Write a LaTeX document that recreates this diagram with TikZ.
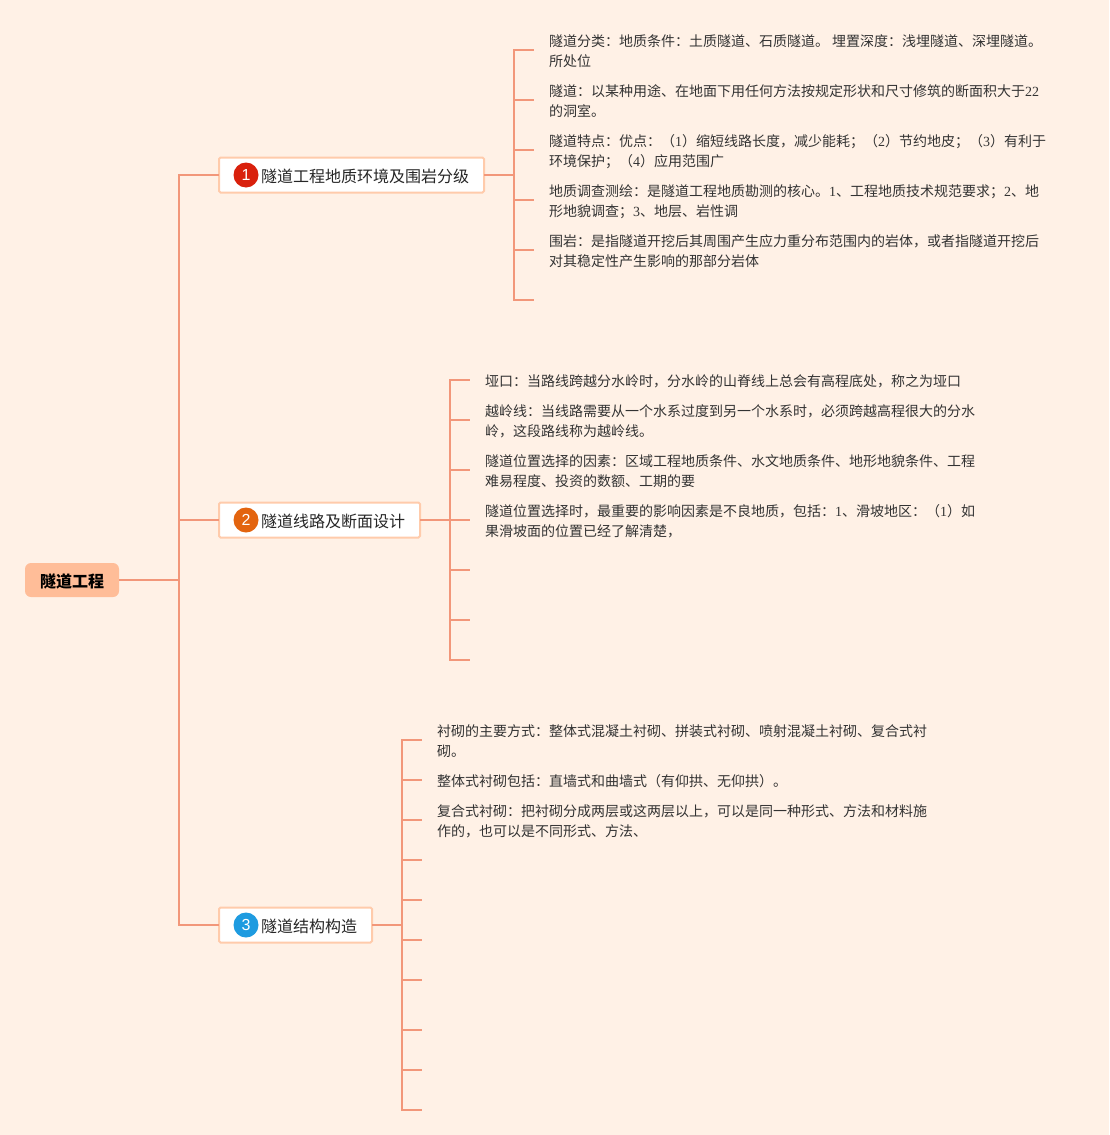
\documentclass[tikz,border=0pt]{standalone}
\usepackage{fontspec}
\setmainfont{Noto Sans CJK SC}
\newfontfamily\digitfont{Liberation Serif}
\newfontfamily\badgefont{Liberation Sans}
\newcommand{\shu}[1]{{\digitfont #1}}
\setlength{\lineskiplimit}{-10pt}
\definecolor{paper}{HTML}{FFF1E6}
\definecolor{branchline}{HTML}{F2977A}
\definecolor{rootfill}{HTML}{FFBD98}
\definecolor{topicline}{HTML}{FFCBAB}
\definecolor{inkgray}{HTML}{333333}
\definecolor{badgered}{HTML}{D9200C}
\definecolor{badgeorange}{HTML}{E3640F}
\definecolor{badgeblue}{HTML}{1E9BE0}
\begin{document}
\begin{tikzpicture}[x=1pt, y=-1pt, line width=2pt,
    link/.style={draw=branchline, line width=2pt},
    root/.style={fill=rootfill, rounded corners=6pt, minimum width=94pt, minimum height=34pt, inner sep=0pt, outer sep=0pt, text=black, text height=15pt, text depth=0pt, font=\fontsize{16}{20}\selectfont\bfseries},
    topic/.style={draw=topicline, fill=white, rounded corners=1.5pt, anchor=west, minimum height=35pt, inner ysep=0pt, inner xsep=15pt, outer sep=0pt, text=black!85, text height=15pt, text depth=0pt, font=\fontsize{16}{20}\selectfont, execute at begin node={\hspace{27pt}}},
    badge/.style={circle, inner sep=0pt, outer sep=0pt, minimum size=25pt, text=white, font=\fontsize{16}{16}\selectfont\badgefont},
    leaf/.style={anchor=west, align=left, inner xsep=15pt, inner ysep=0pt, outer sep=0pt, yshift=-1.5pt, text=inkgray, font=\fontsize{14}{20}\selectfont}]
    \useasboundingbox [fill=paper] (0, 0) rectangle (1109, 1135);

    \node [root] (tunnel) at (72, 580) {隧道工程};
    \coordinate (trunk) at (179, 580);

    \node [topic] (geology) at (219, 175) {隧道工程地质环境及围岩分级};
    \node [badge, fill=badgered] (geologybadge) at (246, 175) {1};
    \node [topic] (route) at (219, 520) {隧道线路及断面设计};
    \node [badge, fill=badgeorange] (routebadge) at (246, 520) {2};
    \node [topic] (structure) at (219, 925) {隧道结构构造};
    \node [badge, fill=badgeblue] (structurebadge) at (246, 925) {3};

    \path [link] (tunnel.east) -- (trunk);
    \path [link] (trunk) |- (geology.west);
    \path [link] (trunk) |- (route.west);
    \path [link] (trunk) |- (structure.west);

    % first group
    \coordinate (busone) at (514, 175);
    \node [leaf] (kinds) at (534, 50) {隧道分类：地质条件：土质隧道、石质隧道。 埋置深度：浅埋隧道、深埋隧道。\\所处位};
    \node [leaf] (define) at (534, 100) {隧道：以某种用途、在地面下用任何方法按规定形状和尺寸修筑的断面积大于\shu{22}\\的洞室。};
    \node [leaf] (merits) at (534, 150) {隧道特点：优点：（\shu{1}）缩短线路长度，减少能耗；（\shu{2}）节约地皮；（\shu{3}）有利于\\环境保护；（\shu{4}）应用范围广};
    \node [leaf] (survey) at (534, 200) {地质调查测绘：是隧道工程地质勘测的核心。\shu{1}、工程地质技术规范要求；\shu{2}、地\\形地貌调查；\shu{3}、地层、岩性调};
    \node [leaf] (rock) at (534, 250) {围岩：是指隧道开挖后其周围产生应力重分布范围内的岩体，或者指隧道开挖后\\对其稳定性产生影响的那部分岩体};
    \coordinate (blankone) at (534, 300);

    \path [link] (geology.east) -- (busone);
    \path [link] (busone) |- ([yshift=1.5pt]kinds.west);
    \path [link] (busone) |- ([yshift=1.5pt]define.west);
    \path [link] (busone) |- ([yshift=1.5pt]merits.west);
    \path [link] (busone) |- ([yshift=1.5pt]survey.west);
    \path [link] (busone) |- ([yshift=1.5pt]rock.west);
    \path [link] (busone) |- (blankone);

    % second group
    \coordinate (bustwo) at (450, 520);
    \node [leaf] (pass) at (470, 380) {垭口：当路线跨越分水岭时，分水岭的山脊线上总会有高程底处，称之为垭口};
    \node [leaf] (ridge) at (470, 420) {越岭线：当线路需要从一个水系过度到另一个水系时，必须跨越高程很大的分水\\岭，这段路线称为越岭线。};
    \node [leaf] (factor) at (470, 470) {隧道位置选择的因素：区域工程地质条件、水文地质条件、地形地貌条件、工程\\难易程度、投资的数额、工期的要};
    \node [leaf] (badland) at (470, 520) {隧道位置选择时，最重要的影响因素是不良地质，包括：\shu{1}、滑坡地区：（\shu{1}）如\\果滑坡面的位置已经了解清楚，};
    \coordinate (blanktwoa) at (470, 570);
    \coordinate (blanktwob) at (470, 620);
    \coordinate (blanktwoc) at (470, 660);

    \path [link] (route.east) -- (bustwo);
    \path [link] (bustwo) |- ([yshift=1.5pt]pass.west);
    \path [link] (bustwo) |- ([yshift=1.5pt]ridge.west);
    \path [link] (bustwo) |- ([yshift=1.5pt]factor.west);
    \path [link] (bustwo) |- ([yshift=1.5pt]badland.west);
    \path [link] (bustwo) |- (blanktwoa);
    \path [link] (bustwo) |- (blanktwob);
    \path [link] (bustwo) |- (blanktwoc);

    % third group
    \coordinate (busthree) at (402, 925);
    \node [leaf] (lining) at (422, 740) {衬砌的主要方式：整体式混凝土衬砌、拼装式衬砌、喷射混凝土衬砌、复合式衬\\砌。};
    \node [leaf] (whole) at (422, 780) {整体式衬砌包括：直墙式和曲墙式（有仰拱、无仰拱）。};
    \node [leaf] (composite) at (422, 820) {复合式衬砌：把衬砌分成两层或这两层以上，可以是同一种形式、方法和材料施\\作的，也可以是不同形式、方法、};
    \coordinate (blankthreea) at (422, 860);
    \coordinate (blankthreeb) at (422, 900);
    \coordinate (blankthreec) at (422, 940);
    \coordinate (blankthreed) at (422, 980);
    \coordinate (blankthreee) at (422, 1030);
    \coordinate (blankthreef) at (422, 1070);
    \coordinate (blankthreeg) at (422, 1110);

    \path [link] (structure.east) -- (busthree);
    \path [link] (busthree) |- ([yshift=1.5pt]lining.west);
    \path [link] (busthree) |- ([yshift=1.5pt]whole.west);
    \path [link] (busthree) |- ([yshift=1.5pt]composite.west);
    \path [link] (busthree) |- (blankthreea);
    \path [link] (busthree) |- (blankthreeb);
    \path [link] (busthree) |- (blankthreec);
    \path [link] (busthree) |- (blankthreed);
    \path [link] (busthree) |- (blankthreee);
    \path [link] (busthree) |- (blankthreef);
    \path [link] (busthree) |- (blankthreeg);
\end{tikzpicture}
\end{document}
